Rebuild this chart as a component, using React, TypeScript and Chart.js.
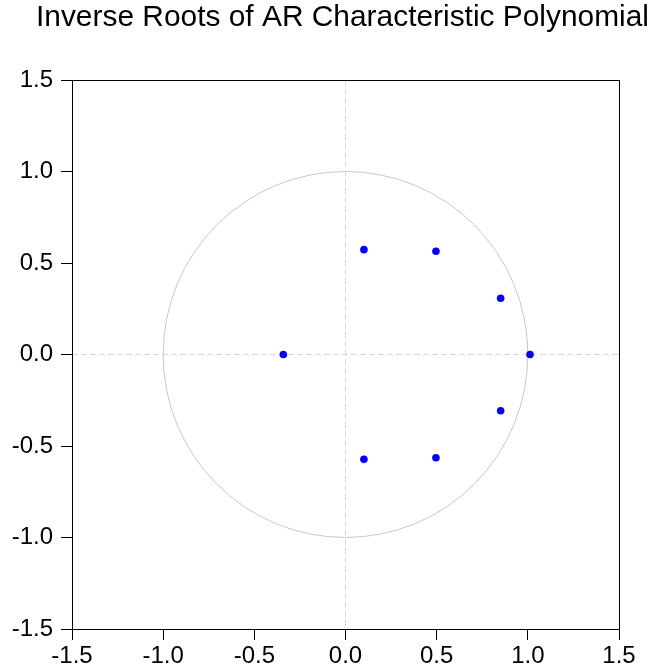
import React, { useEffect, useRef } from 'react';
import { Chart, registerables } from 'chart.js';

Chart.register(...registerables);

const TITLE = 'Inverse Roots of AR Characteristic Polynomial';
const ROOT_RE = [-0.341, 0.101, 0.101, 0.496, 0.496, 0.851, 0.851, 1.012];
const ROOT_IM = [0, 0.573, -0.573, 0.564, -0.564, 0.307, -0.307, 0];
const AXIS_MIN = -1.5;
const AXIS_MAX = 1.5;
const AXIS_STEP = 0.5;
const UNIT_RADIUS = 1;

const FONT = "'Liberation Sans', Arial, Helvetica, sans-serif";
const TITLE_SIZE = 30;

const decorPlugin = {
  id: 'decor',
  afterLayout(chart: any) {
    const t = chart.titleBlock;
    if (t) {
      t.left = 36;
      t.right = 649;
    }
  },
  beforeDatasetsDraw(chart: any) {
    const { ctx, scales } = chart;
    const x = scales.x;
    const y = scales.y;
    const cx = x.getPixelForValue(0);
    const cy = y.getPixelForValue(0);
    const rx = x.getPixelForValue(UNIT_RADIUS) - cx;
    const ry = cy - y.getPixelForValue(UNIT_RADIUS);
    ctx.save();
    ctx.strokeStyle = '#c8c8c8';
    ctx.lineWidth = 1;
    ctx.beginPath();
    ctx.ellipse(cx, cy, rx, ry, 0, 0, Math.PI * 2);
    ctx.stroke();
    ctx.restore();
  },
  afterDraw(chart: any) {
    const { ctx, chartArea } = chart;
    const l = Math.round(chartArea.left) + 0.5;
    const t = Math.round(chartArea.top) + 0.5;
    const r = Math.round(chartArea.right) + 0.5;
    const b = Math.round(chartArea.bottom) + 0.5;
    ctx.save();
    ctx.strokeStyle = '#000';
    ctx.lineWidth = 1;
    ctx.strokeRect(l, t, r - l, b - t);
    ctx.restore();
  },
};

const zeroGrid = (c: any) =>
  c.tick && Math.abs(c.tick.value) < 1e-9 ? '#d9d9d9' : 'rgba(0,0,0,0)';

const fmt = (v: any) => Number(v).toFixed(1);

export default function App() {
  const ref = useRef<HTMLCanvasElement | null>(null);

  useEffect(() => {
    if (!ref.current) return;
    const points = ROOT_RE.map((re, i) => ({ x: re, y: ROOT_IM[i] }));
    const chart = new Chart(ref.current, {
      type: 'scatter',
      data: {
        datasets: [
          {
            label: 'Inverse roots',
            data: points,
            backgroundColor: '#0000ff',
            borderColor: '#0000ff',
            pointRadius: 3.8,
            pointBorderWidth: 0,
          },
        ],
      },
      options: {
        animation: false,
        responsive: true,
        maintainAspectRatio: false,
        layout: { padding: { left: 0, right: 30, top: 0, bottom: 0 } },
        plugins: {
          legend: { display: false },
          tooltip: { enabled: false },
          title: {
            display: true,
            text: TITLE,
            color: '#000',
            font: { family: FONT, size: TITLE_SIZE, weight: 'normal', lineHeight: 1.2 },
            padding: { top: 0, bottom: 80 - TITLE_SIZE * 1.2 },
          },
        },
        scales: {
          x: {
            type: 'linear',
            min: AXIS_MIN,
            max: AXIS_MAX,
            afterFit: (s: any) => { s.height = 42; },
            ticks: {
              stepSize: AXIS_STEP,
              color: '#000',
              font: { family: FONT, size: 24 },
              padding: 2,
              maxRotation: 0,
              callback: fmt,
            },
            grid: { drawOnChartArea: true, color: zeroGrid, tickColor: '#000', tickLength: 11, lineWidth: 1 },
            border: { display: false, dash: [6, 3] },
          },
          y: {
            type: 'linear',
            min: AXIS_MIN,
            max: AXIS_MAX,
            afterFit: (s: any) => { s.width = 72; },
            ticks: {
              stepSize: AXIS_STEP,
              color: '#000',
              font: { family: FONT, size: 24 },
              padding: 8,
              callback: fmt,
            },
            grid: { drawOnChartArea: true, color: zeroGrid, tickColor: '#000', tickLength: 11, lineWidth: 1 },
            border: { display: false, dash: [6, 3] },
          },
        },
      },
      plugins: [decorPlugin],
    } as any);
    return () => chart.destroy();
  }, []);

  return (
    <div style={{ position: 'fixed', left: 0, top: 0, width: 649, height: 671, background: '#fff' }}>
      <canvas ref={ref} />
    </div>
  );
}
